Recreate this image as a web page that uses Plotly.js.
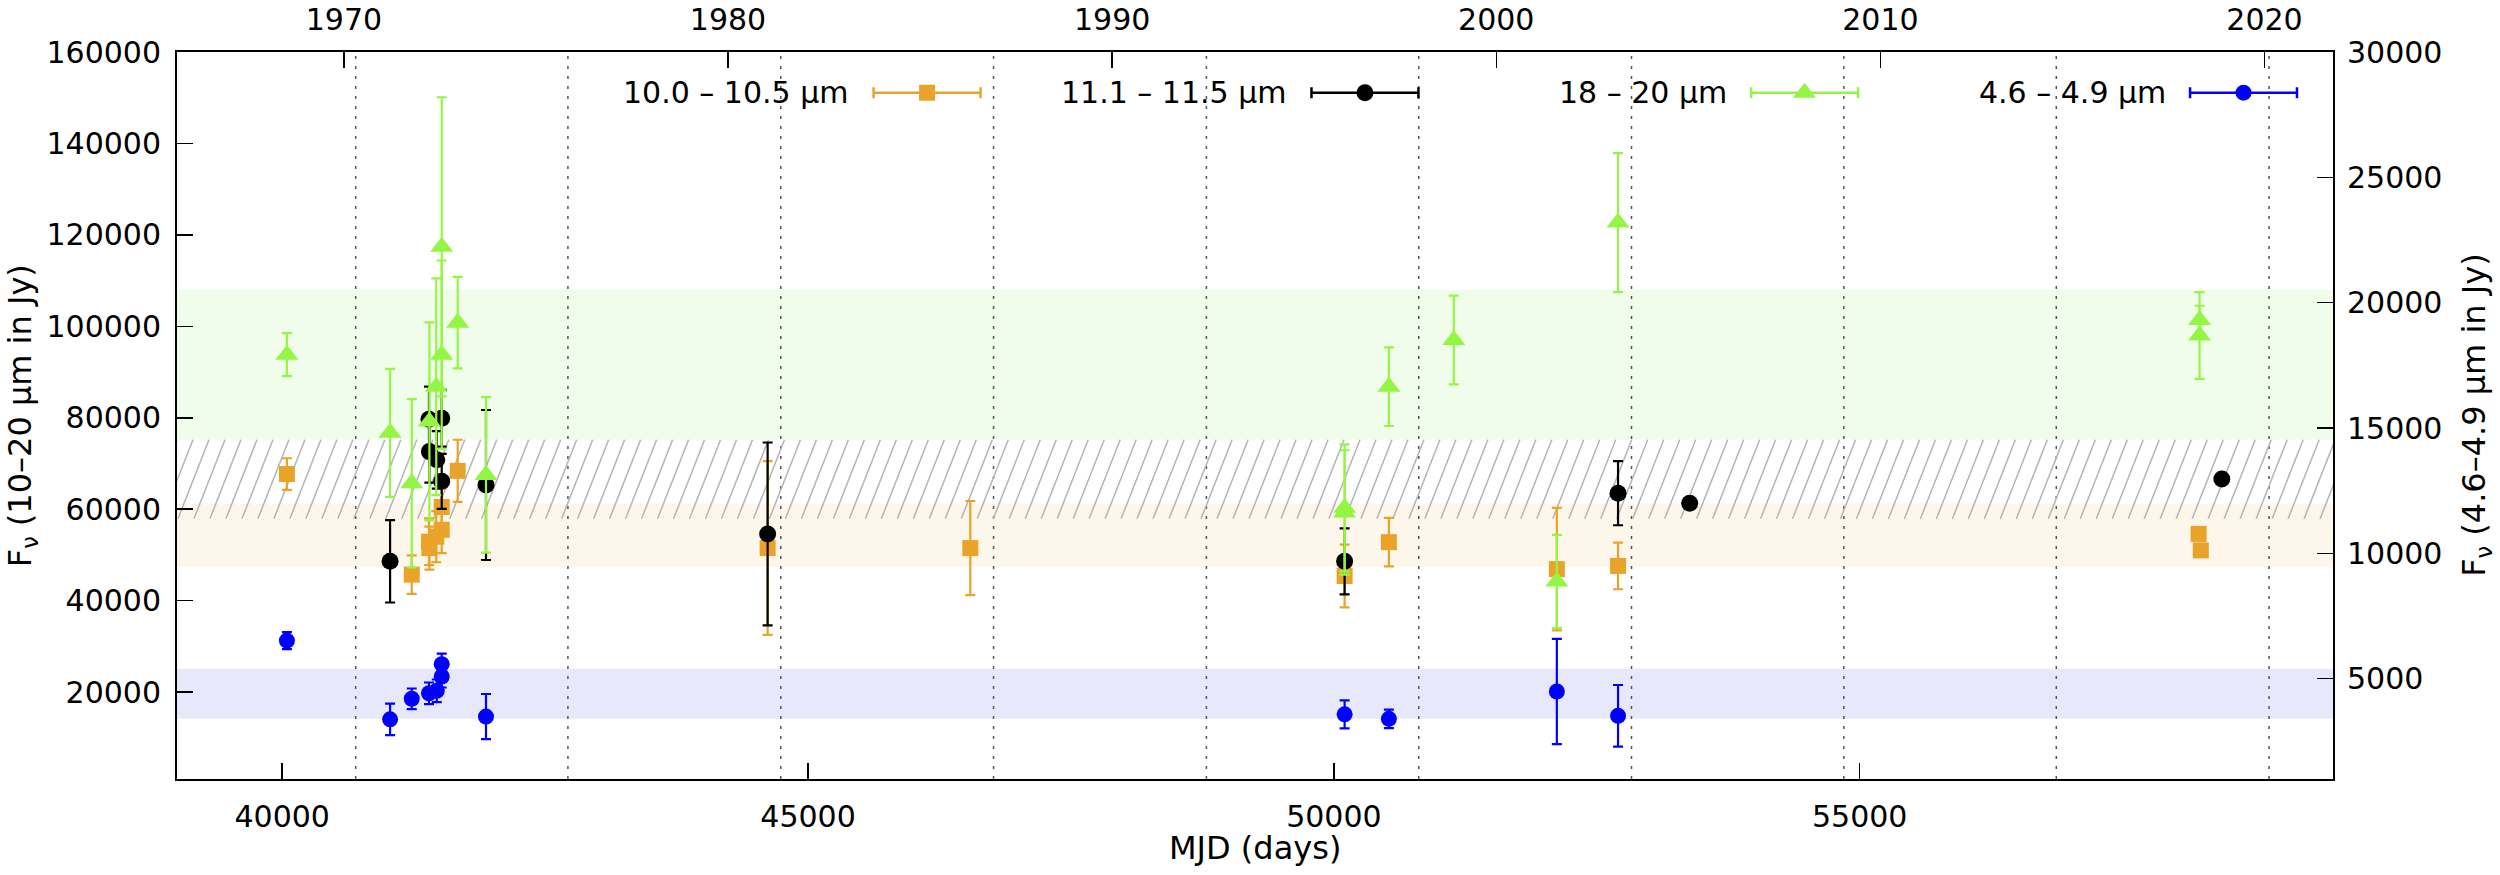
<!DOCTYPE html>
<html>
<head>
<meta charset="utf-8">
<script src="https://cdn.plot.ly/plotly-3.0.1.min.js"></script>
<style>
  body { margin: 0; background: #fff; }
  #myPlot { width: 2500px; height: 875px; }
</style>
</head>
<body>
<div id="myPlot"></div>
<script>
// 10.0 - 10.5 micron (left axis)
var mjd_orange  = [40045, 41232, 41396, 41400, 41465, 41517, 41517, 41669, 44616, 46543, 50102, 50523, 52120, 52702, 58222, 58243];
var flux_orange = [67700, 45700, 52900, 51500, 54000, 55500, 60500, 68400, 51500, 51500, 45400, 52800, 46900, 47600, 54600, 51000];
var err_orange  = [3450, 4200, 5100, 4700, 5600, 5100, 4000, 6800, 19000, 10300, 6850, 5300, 13400, 5100, 0, 0];

// 11.1 - 11.5 micron (left axis)
var mjd_black  = [41026, 41396, 41400, 41470, 41517, 41517, 41938, 44616, 50102, 52702, 53383, 58443];
var flux_black = [48600, 79700, 72600, 70800, 79900, 66100, 65300, 54600, 48600, 63500, 61300, 66600];
var err_black  = [9000, 7100, 6800, 6300, 6200, 6000, 16400, 20000, 7200, 7000, 0, 0];

// 18 - 20 micron (left axis)
var mjd_green  = [40045, 41026, 41232, 41400, 41465, 41517, 41517, 41669, 41938, 50102, 50102, 50523, 51140, 52120, 52702, 58231, 58231];
var flux_green = [93800, 76700, 65700, 79200, 86800, 117400, 93800, 100800, 67500, 60300, 59300, 86800, 97000, 44200, 122700, 101400, 98000];
var err_green  = [4700, 14000, 18400, 21650, 23700, 32700, 20600, 10000, 17000, 13900, 13600, 8600, 9700, 10200, 15200, 3100, 9500];

// 4.6 - 4.9 micron (right axis)
var mjd_blue  = [40045, 41026, 41232, 41396, 41470, 41517, 41517, 41938, 50102, 50523, 52120, 52702];
var flux_blue = [6520, 3380, 4200, 4420, 4520, 5090, 5580, 3490, 3580, 3400, 4490, 3520];
var err_blue  = [340, 630, 410, 430, 450, 440, 420, 900, 560, 370, 2100, 1230];

// mean +- sigma bands
var band_green  = [75200, 108000];
var band_hatch  = [57900, 75200];
var band_orange = [47300, 61200];
var band_blue   = [3400, 5400];

// dotted vertical markers (MJD)
var dotted_mjd = [40699, 42717, 44741, 46764, 48788, 50807, 52830, 54849, 56869, 58892];

var years = [1970, 1980, 1990, 2000, 2010, 2020];
var legend_labels = ['10.0 – 10.5 µm', '11.1 – 11.5 µm', '18 – 20 µm', '4.6 – 4.9 µm'];

var c_orange = '#e9a32b';
var c_black = '#000000';
var c_green = '#95f545';
var c_blue = '#0000ff';
var font_family = 'DejaVu Sans';

var x_range = [39000, 59500];

function yearToMjd(y) {
  return Date.UTC(y, 0, 1) / 86400000 + 40587;
}

function series(mjd, flux, err, color, symbol, size, yaxis) {
  return {
    x: mjd,
    y: flux,
    type: 'scatter',
    mode: 'markers',
    xaxis: 'x',
    yaxis: yaxis,
    showlegend: false,
    marker: {color: color, symbol: symbol, size: size, line: {width: 0}},
    error_y: {type: 'data', array: err, visible: true, color: color, thickness: 2.2, width: 5}
  };
}

var traces = [
  series(mjd_orange, flux_orange, err_orange, c_orange, 'square', 16, 'y'),
  series(mjd_black, flux_black, err_black, c_black, 'circle', 17, 'y'),
  series(mjd_green, flux_green, err_green, c_green, 'triangle-up', 20, 'y'),
  series(mjd_blue, flux_blue, err_blue, c_blue, 'circle', 16, 'y2'),
  // keeps the year axis alive
  {x: [], y: [], type: 'scatter', mode: 'markers', xaxis: 'x2', yaxis: 'y', showlegend: false}
];

// hand made key, samples with horizontal error bars
var key_x = [0.3479, 0.5510, 0.7549, 0.9585];
var key_y = 0.944;
var key_style = [
  [c_orange, 'square', 16],
  [c_black, 'circle', 17],
  [c_green, 'triangle-up', 20],
  [c_blue, 'circle', 16]
];
var annotations = [];
for (var i = 0; i < legend_labels.length; i++) {
  traces.push({
    x: [key_x[i]], y: [key_y], type: 'scatter', mode: 'markers',
    xaxis: 'x3', yaxis: 'y3', showlegend: false,
    marker: {color: key_style[i][0], symbol: key_style[i][1], size: key_style[i][2], line: {width: 0}},
    error_x: {type: 'constant', value: 0.0248, color: key_style[i][0], thickness: 2.5, width: 5.5}
  });
  annotations.push({
    text: legend_labels[i], xref: 'paper', yref: 'paper',
    x: key_x[i] - 0.0351, y: key_y, xanchor: 'right', yanchor: 'middle',
    showarrow: false, font: {family: font_family, size: 30, color: '#000'}
  });
}

annotations.push({
  text: 'MJD (days)', xref: 'paper', yref: 'paper', x: 0.5, y: -0.095,
  xanchor: 'center', yanchor: 'middle', showarrow: false,
  font: {family: font_family, size: 32, color: '#000'}
});
annotations.push({
  text: 'F<sub>ν</sub> (10–20 µm in Jy)', xref: 'paper', yref: 'paper', x: -0.072, y: 0.5,
  xanchor: 'center', yanchor: 'middle', textangle: -90, showarrow: false,
  font: {family: font_family, size: 32, color: '#000'}
});
annotations.push({
  text: 'F<sub>ν</sub> (4.6–4.9 µm in Jy)', xref: 'paper', yref: 'paper', x: 1.066, y: 0.5,
  xanchor: 'center', yanchor: 'middle', textangle: -90, showarrow: false,
  font: {family: font_family, size: 32, color: '#000'}
});

function band(yref, lim, color) {
  return {type: 'rect', xref: 'paper', yref: yref, x0: 0, x1: 1, y0: lim[0], y1: lim[1],
          fillcolor: color, line: {width: 0}, layer: 'below'};
}

var shapes = [
  band('y', band_green, '#f0fdea'),
  band('y', band_orange, '#fdf6ea'),
  band('y2', band_blue, '#e8e8fc')
];

// hatching for the 11.1 - 11.5 band
var hatch_step = 152, hatch_lean = 295;
for (var hx = x_range[0] - hatch_lean; hx < x_range[1]; hx += hatch_step) {
  shapes.push({type: 'line', xref: 'x', yref: 'y',
               x0: hx, x1: hx + hatch_lean, y0: band_hatch[0], y1: band_hatch[1],
               line: {color: '#b4b4b4', width: 1.5}, layer: 'below'});
}

dotted_mjd.forEach(function (m) {
  shapes.push({type: 'line', xref: 'x', yref: 'paper', x0: m, x1: m, y0: 0, y1: 1,
               line: {color: '#555555', width: 1.5, dash: '3px,7px'}, layer: 'below'});
});

var tick_font = {family: font_family, size: 30, color: '#000'};
var common = {
  ticks: 'inside', ticklen: 16, tickwidth: 1.5, tickcolor: '#000',
  showline: true, linewidth: 2, linecolor: '#000',
  showgrid: false, zeroline: false, tickformat: 'd',
  tickfont: tick_font, fixedrange: true
};

function axis(extra) {
  var a = {};
  for (var k in common) a[k] = common[k];
  for (var k2 in extra) a[k2] = extra[k2];
  return a;
}

var layout = {
  width: 2500,
  height: 875,
  margin: {l: 177, r: 167, t: 52, b: 96, pad: 0},
  paper_bgcolor: '#fff',
  plot_bgcolor: '#fff',
  showlegend: false,
  hovermode: false,
  xaxis: axis({range: x_range, tickmode: 'linear', tick0: 0, dtick: 5000, ticklabelstandoff: 10}),
  xaxis2: axis({range: x_range, overlaying: 'x', side: 'top', tickmode: 'array',
                tickvals: years.map(yearToMjd), ticktext: years.map(String), ticklabelstandoff: 8}),
  yaxis: axis({range: [1000, 160000], tickmode: 'linear', tick0: 0, dtick: 20000, ticklabelstandoff: 8}),
  yaxis2: axis({range: [1000, 30000], overlaying: 'y', side: 'right', tickmode: 'linear',
                tick0: 0, dtick: 5000, ticklabelstandoff: 6}),
  xaxis3: {range: [0, 1], overlaying: 'x', visible: false, fixedrange: true},
  yaxis3: {range: [0, 1], overlaying: 'y', visible: false, fixedrange: true},
  shapes: shapes,
  annotations: annotations
};

Plotly.newPlot('myPlot', traces, layout, {displayModeBar: false, staticPlot: true});
</script>
</body>
</html>
